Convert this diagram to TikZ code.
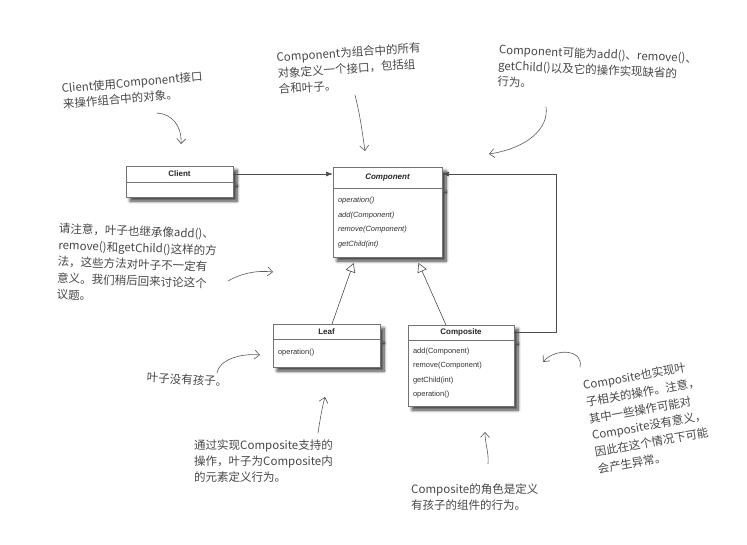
\documentclass[tikz,border=0pt]{standalone}
\usepackage{fontspec}
\setmainfont{Liberation Sans}
\newfontfamily\cjk{Noto Sans CJK SC}
\usetikzlibrary{arrows.meta,positioning,shadows.blur}

\begin{document}
\begin{tikzpicture}[
  x=1pt, y=-1pt,
  clshead/.style={draw=black!55, fill=white, line width=0.6pt, inner sep=0pt, outer sep=0pt,
    font=\fontsize{8}{9}\selectfont\bfseries, text=black!85,
    blur shadow={shadow xshift=4pt, shadow yshift=-4pt, shadow blur radius=3pt, shadow blur steps=8, shadow opacity=75}},
  clsbody/.style={draw=black!55, fill=white, line width=0.6pt, inner xsep=5pt, inner ysep=0pt,
    outer sep=0pt, align=left, font=\fontsize{7.5}{14.4}\selectfont, text=black!80,
    blur shadow={shadow xshift=4pt, shadow yshift=-4pt, shadow blur radius=3pt, shadow blur steps=8, shadow opacity=75}},
  assoc/.style={-{Latex[length=7pt,width=5pt]}, line width=0.7pt, black!70},
  gen/.style={-{Triangle[open,length=9pt,width=10pt]}, line width=0.6pt, black!70},
  note/.style={anchor=north west, align=left, text=black!72, inner sep=0pt,
    font=\cjk\fontsize{11.5}{16}\selectfont},
  hand/.style={-{Straight Barb[length=5pt,width=9pt]}, line width=0.6pt, black!65, line cap=round}
]
  \useasboundingbox (0,0) rectangle (747,544);

  % classes
  \node[clshead, minimum width=107pt, minimum height=16pt] (clienthead) at (179.5,174) {Client};
  \node[clsbody, text width=97pt, minimum height=15pt, below=0pt of clienthead] (clientbody) {};

  \node[clshead, minimum width=109pt, minimum height=21pt] (comphead) at (387.5,177.5) {\itshape Component};
  \node[clsbody, text width=99pt, minimum height=69pt, below=0pt of comphead] (compbody)
    {\itshape operation()\\\itshape add(Component)\\\itshape remove(Component)\\\itshape getChild(int)};

  \node[clshead, minimum width=107pt, minimum height=15pt] (leafhead) at (326.5,331.5) {Leaf};
  \node[clsbody, text width=97pt, minimum height=28pt, below=0pt of leafhead] (leafbody) {operation()};

  \node[clshead, minimum width=106pt, minimum height=15pt] (comphd) at (461,332.5) {Composite};
  \node[clsbody, text width=96pt, minimum height=66pt, below=0pt of comphd] (compsbody)
    {add(Component)\\remove(Component)\\getChild(int)\\operation()};

  % relations
  \draw[assoc] (clienthead.east) -- (clienthead.east -| comphead.west);
  \draw[assoc] (comphd.east) -- ++(42,0) |- (clienthead.east -| comphead.east);
  \draw[gen] ([xshift=5.5pt]leafhead.north) -- ([xshift=-34pt,yshift=-6pt]compbody.south);
  \draw[gen] ([xshift=-15pt]comphd.north) -- ([xshift=31pt,yshift=-6pt]compbody.south);

  % notes
  \node[note, rotate=5] (n1) at (61,83) {Client使用Component接口\\来操作组合中的对象。};
  \node[note, rotate=4] (n2) at (276,52) {Component为组合中的所有\\对象定义一个接口，包括组\\合和叶子。};
  \node[note, rotate=-2.5] (n3) at (499,44) {Component可能为add()、remove()、\\getChild()以及它的操作实现缺省的\\行为。};
  \node[note, rotate=-2, font=\cjk\fontsize{11.5}{16.5}\selectfont] (n4) at (59,223)
    {请注意，叶子也继承像add()、\\remove()和getChild()这样的方\\法，这些方法对叶子不一定有\\意义。我们稍后回来讨论这个\\议题。};
  \node[note, rotate=-3] (n5) at (147,372) {叶子没有孩子。};
  \node[note] (n6) at (194,440) {通过实现Composite支持的\\操作，叶子为Composite内\\的元素定义行为。};
  \node[note] (n7) at (411,484) {Composite的角色是定义\\有孩子的组件的行为。};
  \node[note, rotate=10, font=\cjk\fontsize{11.5}{17}\selectfont] (n8) at (582,380)
    {Composite也实现叶\\子相关的操作。注意，\\其中一些操作可能对\\Composite没有意义，\\因此在这个情况下可能\\会产生异常。};

  % hand drawn arrows
  \coordinate (a1s) at (157,113); \coordinate (a1e) at (181,144);
  \coordinate (a2s) at (355,95);  \coordinate (a2e) at (365,151);
  \coordinate (a3s) at (546,107); \coordinate (a3e) at (489,154);
  \coordinate (a4s) at (228,281); \coordinate (a4e) at (273,272);
  \coordinate (a5s) at (217,373); \coordinate (a5e) at (260,355);
  \coordinate (a6s) at (318,433); \coordinate (a6e) at (325,397);
  \coordinate (a7s) at (488,464); \coordinate (a7e) at (485,432);
  \coordinate (a8s) at (580,367); \coordinate (a8e) at (543,362);
  \draw[hand] (a1s) .. controls (172,114) and (182,126) .. (a1e);
  \draw[hand] (a2s) .. controls (360,115) and (362,130) .. (a2e);
  \draw[hand] (a3s) .. controls (549,128) and (528,148) .. (a3e);
  \draw[hand] (a4s) .. controls (240,274) and (255,270) .. (a4e);
  \draw[hand] (a5s) .. controls (219,360) and (240,353) .. (a5e);
  \draw[hand] (a6s) .. controls (320,420) and (322,408) .. (a6e);
  \draw[hand] (a7s) .. controls (489,452) and (485,444) .. (a7e);
  \draw[hand] (a8s) .. controls (584,350) and (556,347) .. (a8e);
\end{tikzpicture}
\end{document}
